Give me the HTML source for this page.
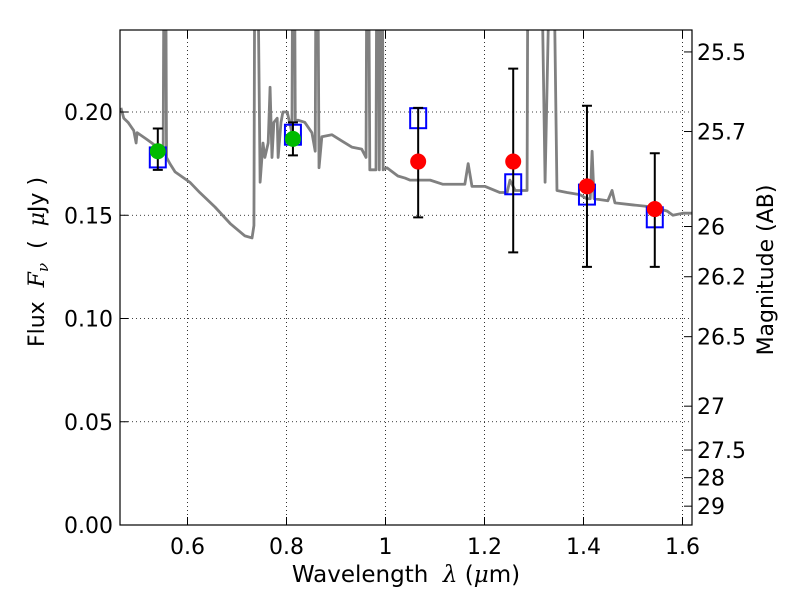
<!DOCTYPE html>
<html><head><meta charset="utf-8"><style>
body{margin:0;background:#fff}
svg text{font-family:"DejaVu Sans","Liberation Sans",sans-serif;fill:#000}
</style></head><body>
<svg id="chart" width="800" height="600" xmlns="http://www.w3.org/2000/svg">
<rect width="800" height="600" fill="#fff"/>
<defs><clipPath id="clip"><rect x="120" y="30" width="572" height="495"/></clipPath></defs>
<g id="grid"></g>
<g id="spec" clip-path="url(#clip)"></g>
<g id="marks" clip-path="url(#clip)"></g>
<rect x="120" y="30" width="572" height="495" fill="none" stroke="#000" stroke-width="1.2"/>
<g id="axes"></g>
<text x="406" y="582" font-size="23" text-anchor="middle">Wavelength&#160;&#160;<tspan font-family="DejaVu Serif" font-style="italic">λ</tspan> (<tspan font-family="DejaVu Serif" font-style="italic">μ</tspan>m)</text>
<text transform="translate(44,262) rotate(-90)" font-size="22" text-anchor="middle">Flux&#160;&#160;<tspan font-family="DejaVu Serif" font-style="italic">F</tspan><tspan font-family="DejaVu Serif" font-style="italic" font-size="15" dy="4">ν</tspan><tspan dy="-4">&#160;&#160;(&#160;&#160;</tspan><tspan font-family="DejaVu Serif" font-style="italic">μ</tspan>Jy )</text>
<text transform="translate(773,270) rotate(-90)" font-size="22" text-anchor="middle">Magnitude (AB)</text>
</svg>
<script>
const xTicks=[0.6,0.8,1,1.2,1.4,1.6];
const xTickLabels=["0.6","0.8","1","1.2","1.4","1.6"];
const yTicks=[0,0.05,0.1,0.15,0.2];
const yTickLabels=["0.00","0.05","0.10","0.15","0.20"];
const magTicks=[25.5,25.7,26,26.2,26.5,27,27.5,28,29];
const magTickLabels=["25.5","25.7","26","26.2","26.5","27","27.5","28","29"];
const specWave=[0.4655,0.4713,0.4799,0.4914,0.4962,0.4981,0.5164,0.5279,0.5442,0.5509,0.5528,0.5557,0.5576,0.5644,0.5749,0.6047,0.6248,0.6555,0.6862,0.7160,0.7304,0.7342,0.7361,0.7409,0.7467,0.7525,0.7563,0.7630,0.7668,0.7707,0.7745,0.7812,0.7831,0.7889,0.7927,0.8014,0.8110,0.8129,0.8158,0.8177,0.8234,0.8369,0.8513,0.8580,0.8599,0.8628,0.8657,0.8714,0.8916,0.9117,0.9319,0.9520,0.9607,0.9626,0.9655,0.9683,0.9808,0.9827,0.9856,0.9875,0.9904,0.9933,0.9952,1.0029,1.0250,1.0394,1.0499,1.0902,1.1161,1.1440,1.1603,1.1670,1.1747,1.2006,1.2313,1.2457,1.2514,1.2620,1.2860,1.2879,1.3138,1.3224,1.3339,1.3387,1.3464,1.3666,1.3925,1.4069,1.4136,1.4174,1.4213,1.4491,1.4577,1.4635,1.5000,1.5403,1.5691,1.5806,1.6008,1.6209];
const specFlux=[0.202,0.197,0.195,0.191,0.185,0.190,0.187,0.185,0.182,0.182,0.30,0.30,0.178,0.175,0.171,0.166,0.161,0.154,0.146,0.140,0.139,0.145,0.30,0.30,0.166,0.185,0.178,0.185,0.212,0.178,0.195,0.197,0.178,0.195,0.200,0.200,0.190,0.30,0.30,0.196,0.196,0.195,0.190,0.181,0.30,0.30,0.173,0.188,0.189,0.186,0.183,0.182,0.178,0.30,0.30,0.172,0.172,0.30,0.30,0.172,0.30,0.30,0.172,0.173,0.169,0.168,0.167,0.167,0.165,0.165,0.165,0.175,0.164,0.164,0.161,0.161,0.167,0.162,0.162,0.30,0.30,0.166,0.30,0.30,0.162,0.161,0.160,0.158,0.158,0.181,0.158,0.157,0.162,0.156,0.155,0.154,0.152,0.150,0.151,0.151];
const greenWave=[0.54,0.813];
const greenFlux=[0.181,0.187];
const greenLo=[0.172,0.179];
const greenHi=[0.192,0.195];
const redWave=[1.066,1.258,1.407,1.544];
const redFlux=[0.176,0.176,0.164,0.153];
const redLo=[0.149,0.132,0.125,0.125];
const redHi=[0.202,0.221,0.203,0.180];
const modelWave=[0.54,0.813,1.066,1.258,1.407,1.544];
const modelFlux=[0.178,0.189,0.197,0.165,0.160,0.149];

const NS="http://www.w3.org/2000/svg";
const X=l=>187.5+(l-0.6)*495;
const Y=f=>525-f*2065;
const magY=m=>Y(Math.pow(10,(23.9-m)/2.5));
function mk(tag,attrs,parent){const e=document.createElementNS(NS,tag);for(const k in attrs)e.setAttribute(k,attrs[k]);parent.appendChild(e);return e;}
const grid=document.getElementById('grid'),axes=document.getElementById('axes');
xTicks.forEach((t,i)=>{
  const g=mk('line',{x1:X(t),x2:X(t),y1:30,y2:525,stroke:'#000','stroke-width':0.8,'stroke-dasharray':'1,3'},grid);
  
  
  mk('line',{x1:X(t),x2:X(t),y1:525,y2:517,stroke:'#000'},axes);
  mk('line',{x1:X(t),x2:X(t),y1:30,y2:38,stroke:'#000'},axes);
  const tx=mk('text',{x:X(t),y:554,'font-size':22,'text-anchor':'middle'},axes);
  tx.textContent=xTickLabels[i];
  
  
});
yTicks.forEach((t,i)=>{
  const g=mk('line',{x1:120,x2:692,y1:Y(t),y2:Y(t),stroke:'#000','stroke-width':0.8,'stroke-dasharray':'1,3'},grid);
  
  
  mk('line',{x1:120,x2:128,y1:Y(t),y2:Y(t),stroke:'#000'},axes);
  const tx=mk('text',{x:113,y:Y(t)+8,'font-size':22,'text-anchor':'end'},axes);
  tx.textContent=yTickLabels[i];
  
  
});
magTicks.forEach((m,i)=>{
  const y=magY(m);
  mk('line',{x1:684,x2:692,y1:y,y2:y,stroke:'#000'},axes);
  const tx=mk('text',{x:697,y:y+8,'font-size':22},axes);
  tx.textContent=magTickLabels[i];
  
  
});
const spec=document.getElementById('spec');
const p=mk('polyline',{points:specWave.map((w,i)=>X(w)+','+Y(specFlux[i])).join(' '),fill:'none',stroke:'#808080','stroke-width':2.8,'stroke-linejoin':'round'},spec);


const marks=document.getElementById('marks');
modelWave.forEach((w,i)=>{
  const r=mk('rect',{x:X(w)-8,y:Y(modelFlux[i])-10,width:16,height:20,fill:'none',stroke:'#0000ff','stroke-width':2},marks);
  
  
});
function errs(wv,lo,hi){wv.forEach((w,i)=>{
  const x=X(w),a=Y(lo[i]),b=Y(hi[i]);
  const g=mk('path',{d:`M${x},${a}V${b}M${x-5},${a}H${x+5}M${x-5},${b}H${x+5}`,stroke:'#000','stroke-width':2,fill:'none'},marks);
  
  
});}
errs(greenWave,greenLo,greenHi);errs(redWave,redLo,redHi);
greenWave.forEach((w,i)=>{
  const c=mk('circle',{cx:X(w),cy:Y(greenFlux[i]),r:8,fill:'#00bb00'},marks);
  
  
});
redWave.forEach((w,i)=>{
  const c=mk('circle',{cx:X(w),cy:Y(redFlux[i]),r:8,fill:'#ff0000'},marks);
  
  
});
</script>
</body></html>
